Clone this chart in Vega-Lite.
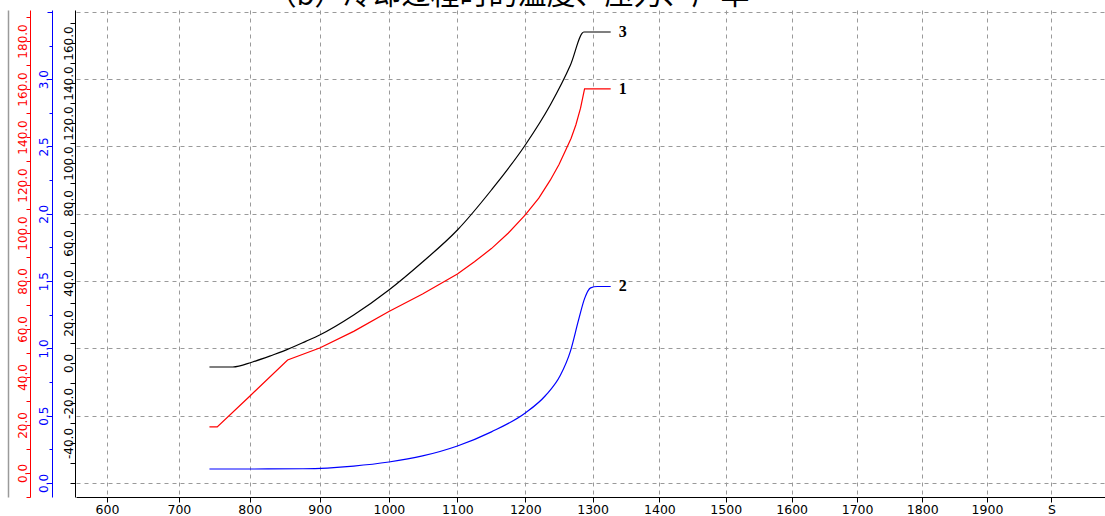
{
  "$schema": "https://vega.github.io/schema/vega-lite/v6.json",
  "width": 1029,
  "height": 487,
  "autosize": "none",
  "padding": {"left": 76, "top": 10, "right": 0, "bottom": 19},
  "background": "white",
  "title": {
    "text": "（b）冷却过程时的温度、压力、产率",
    "font": "Noto Sans CJK SC",
    "fontSize": 29,
    "fontWeight": "normal",
    "color": "black",
    "anchor": "middle",
    "baseline": "alphabetic",
    "offset": -24,
    "dx": -82
  },
  "config": {
    "view": {"stroke": null},
    "axis": {"labelFont": "DejaVu Sans", "labelFontSize": 12, "labelOverlap": false, "labelFlush": false}
  },
  "datasets": {
    "c1": [
      {"t": 743, "v": 19.2}, {"t": 754, "v": 19.2}, {"t": 800, "v": 32}, {"t": 854, "v": 47.1},
      {"t": 900, "v": 52.1}, {"t": 949, "v": 59}, {"t": 1000, "v": 67.3}, {"t": 1049, "v": 74.6},
      {"t": 1100, "v": 82.9}, {"t": 1125, "v": 88}, {"t": 1150, "v": 93.5}, {"t": 1175, "v": 100},
      {"t": 1200, "v": 107.5}, {"t": 1220, "v": 114.5}, {"t": 1237, "v": 122}, {"t": 1250, "v": 128.5},
      {"t": 1260, "v": 134.6}, {"t": 1268, "v": 139.5}, {"t": 1275, "v": 145}, {"t": 1282, "v": 152},
      {"t": 1288, "v": 160}, {"t": 1327, "v": 160}
    ],
    "c2": [
      {"t": 743, "v": 0.104}, {"t": 800, "v": 0.104}, {"t": 876, "v": 0.106}, {"t": 949, "v": 0.126},
      {"t": 1000, "v": 0.156}, {"t": 1049, "v": 0.201}, {"t": 1100, "v": 0.275}, {"t": 1150, "v": 0.38},
      {"t": 1200, "v": 0.52}, {"t": 1230, "v": 0.65}, {"t": 1252, "v": 0.8}, {"t": 1267, "v": 0.98},
      {"t": 1279, "v": 1.21}, {"t": 1288, "v": 1.37}, {"t": 1297, "v": 1.45}, {"t": 1307, "v": 1.46},
      {"t": 1327, "v": 1.46}
    ],
    "c3": [
      {"t": 743, "v": -2}, {"t": 776, "v": -2}, {"t": 804, "v": 0.5}, {"t": 833, "v": 4},
      {"t": 847, "v": 5.8}, {"t": 880, "v": 10.8}, {"t": 900, "v": 14}, {"t": 949, "v": 24},
      {"t": 1000, "v": 36.5}, {"t": 1049, "v": 50.5}, {"t": 1100, "v": 66.5}, {"t": 1150, "v": 86.5},
      {"t": 1200, "v": 109}, {"t": 1237, "v": 129}, {"t": 1267, "v": 149}, {"t": 1287, "v": 165.5},
      {"t": 1327, "v": 165.5}
    ]
  },
  "layer": [
    {
      "data": {"name": "c1"},
      "encoding": {
        "x": {
          "field": "t", "type": "quantitative",
          "scale": {"type": "pow", "exponent": 0.9, "domain": [557.4, 2083.7], "nice": false, "zero": false},
          "axis": {
            "title": null,
            "values": [600, 650, 700, 750, 800, 850, 900, 950, 1000, 1050, 1100, 1150, 1200, 1250, 1300, 1350, 1400, 1450, 1500, 1550, 1600, 1650, 1700, 1750, 1800, 1850, 1900, 1950, 2000, 2050],
            "format": "d",
            "labelExpr": "datum.value % 100 == 0 ? (datum.value == 2000 ? 'S' : datum.label) : ''",
            "grid": true, "gridDash": [4, 4], "gridColor": "#9a9a9a",
            "gridOpacity": {"condition": {"test": "datum.value % 100 == 0", "value": 1}, "value": 0},
            "tickSize": 5, "tickColor": "black", "domainColor": "black", "labelColor": "black",
            "labelFontSize": 12.5, "labelPadding": 1
          }
        },
        "y": {
          "field": "v", "type": "quantitative",
          "scale": {"domain": [-10, 192.9], "nice": false, "zero": false},
          "axis": {
            "title": null, "orient": "left", "offset": 46, "grid": false,
            "values": [-10, 0, 10, 20, 30, 40, 50, 60, 70, 80, 90, 100, 110, 120, 130, 140, 150, 160, 170, 180, 190],
            "labelExpr": "datum.value % 20 == 0 && datum.value >= 0 ? format(datum.value, '.1f') : ''",
            "labelAngle": -90, "labelAlign": "center", "labelBaseline": "alphabetic",
            "labelColor": "#ff0000", "domainColor": "#ff0000", "tickColor": "#ff0000",
            "tickSize": 4, "labelPadding": 0
          }
        }
      },
      "layer": [
        {"mark": {"type": "line", "color": "#ff0000", "strokeWidth": 1.2}},
        {
          "transform": [{"filter": "datum.t == 1327"}],
          "mark": {"type": "text", "align": "left", "baseline": "middle", "dx": 8, "font": "Liberation Serif", "fontWeight": "bold", "fontSize": 16, "color": "black"},
          "encoding": {"text": {"value": "1"}}
        }
      ]
    },
    {
      "data": {"name": "c2"},
      "encoding": {
        "x": {
          "field": "t", "type": "quantitative",
          "scale": {"type": "pow", "exponent": 0.9, "domain": [557.4, 2083.7], "nice": false, "zero": false}
        },
        "y": {
          "field": "v", "type": "quantitative",
          "scale": {"domain": [-0.104, 3.514], "nice": false, "zero": false},
          "axis": {
            "title": null, "orient": "left", "offset": 24,
            "values": [0, 0.25, 0.5, 0.75, 1, 1.25, 1.5, 1.75, 2, 2.25, 2.5, 2.75, 3, 3.25, 3.5],
            "labelExpr": "(datum.value * 2) % 1 == 0 && datum.value <= 3 ? format(datum.value, '.1f') : ''",
            "labelAngle": -90, "labelAlign": "center", "labelBaseline": "alphabetic",
            "labelColor": "#0000ff", "domainColor": "#0000ff", "tickColor": "#0000ff",
            "tickSize": {"condition": {"test": "(datum.value * 2) % 1 == 0", "value": 5}, "value": 3},
            "labelPadding": 0,
            "grid": true, "gridDash": [4, 4], "gridColor": "#9a9a9a",
            "gridOpacity": {"condition": {"test": "(datum.value * 2) % 1 == 0", "value": 1}, "value": 0}
          }
        }
      },
      "layer": [
        {"mark": {"type": "line", "color": "#0000ff", "strokeWidth": 1.2, "interpolate": "monotone"}},
        {
          "transform": [{"filter": "datum.t == 1327"}],
          "mark": {"type": "text", "align": "left", "baseline": "middle", "dx": 8, "font": "Liberation Serif", "fontWeight": "bold", "fontSize": 16, "color": "black"},
          "encoding": {"text": {"value": "2"}}
        }
      ]
    },
    {
      "data": {"name": "c3"},
      "encoding": {
        "x": {
          "field": "t", "type": "quantitative",
          "scale": {"type": "pow", "exponent": 0.9, "domain": [557.4, 2083.7], "nice": false, "zero": false}
        },
        "y": {
          "field": "v", "type": "quantitative",
          "scale": {"domain": [-67, 176.5], "nice": false, "zero": false},
          "axis": {
            "title": null, "orient": "left", "offset": 1, "grid": false,
            "values": [-60, -50, -40, -30, -20, -10, 0, 10, 20, 30, 40, 50, 60, 70, 80, 90, 100, 110, 120, 130, 140, 150, 160, 170],
            "labelExpr": "datum.value % 20 == 0 && datum.value >= -40 && datum.value <= 160 ? (datum.value < 0 ? '-' : '') + format(abs(datum.value), '.1f') : ''",
            "labelAngle": -90, "labelAlign": "center", "labelBaseline": "alphabetic",
            "labelColor": "black", "domainColor": "black", "tickColor": "black",
            "tickSize": 5, "labelPadding": -2
          }
        }
      },
      "layer": [
        {"mark": {"type": "line", "color": "black", "strokeWidth": 1.2, "interpolate": "monotone"}},
        {
          "transform": [{"filter": "datum.t == 1327"}],
          "mark": {"type": "text", "align": "left", "baseline": "middle", "dx": 8, "font": "Liberation Serif", "fontWeight": "bold", "fontSize": 16, "color": "black"},
          "encoding": {"text": {"value": "3"}}
        }
      ]
    },
    {
      "data": {"name": "c3"},
      "mark": {"type": "line", "strokeOpacity": 0},
      "encoding": {
        "x": {
          "field": "t", "type": "quantitative",
          "scale": {"type": "pow", "exponent": 0.9, "domain": [557.4, 2083.7], "nice": false, "zero": false}
        },
        "y": {
          "field": "v", "type": "quantitative",
          "scale": {"domain": [-67, 176.5], "nice": false, "zero": false},
          "axis": {
            "title": null, "orient": "left", "offset": 68, "grid": false,
            "labels": false, "ticks": false,
            "domainColor": "#9a9a9a", "domainWidth": 1.5
          }
        }
      }
    }
  ],
  "resolve": {"scale": {"y": "independent"}, "axis": {"y": "independent"}}
}
